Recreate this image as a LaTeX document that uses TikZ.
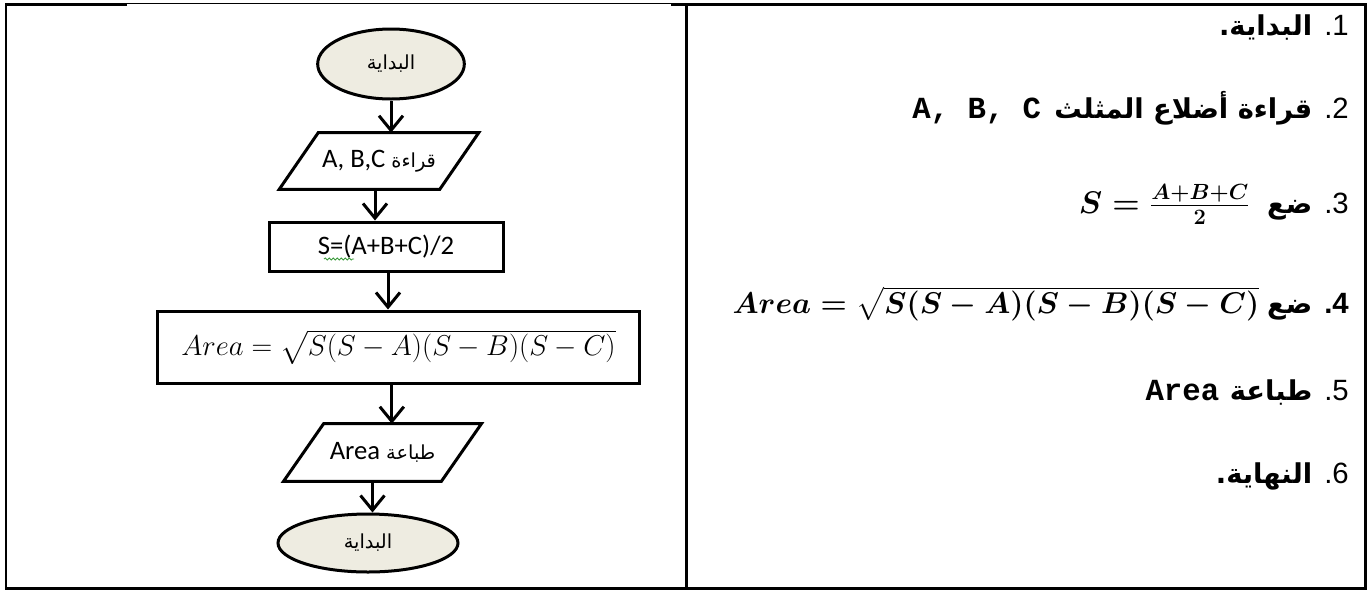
\RequirePackage{fix-cm}
\documentclass[tikz,border=0pt]{standalone}
\usepackage{amsmath}
\usepackage{fontspec}
\setmainfont{Liberation Sans}
\newfontfamily\arabicfont[Script=Arabic]{DejaVu Sans}
\newfontfamily\monof{Liberation Mono}
\newfontfamily\calib{Carlito}
\TeXXeTstate=1
\usetikzlibrary{shapes.geometric,arrows.meta,decorations.pathmorphing}
\definecolor{termfill}{HTML}{EEECE1}
\definecolor{squig}{HTML}{3A9A3A}
\tikzset{
  shp/.style={draw=black, line width=2.25pt},
  term/.style={shape=ellipse, draw=black, line width=2.25pt, fill=termfill, inner sep=0pt},
  procbox/.style={shape=rectangle, draw=black, line width=2.25pt, inner sep=0pt},
  ioslot/.style={shape=rectangle, inner sep=0pt},
  arr/.style={line width=2.25pt, -{Straight Barb[length=11pt,width=18pt]}},
  frameline/.style={line width=1.9pt, line cap=rect},
  thinline/.style={line width=0.8pt},
  rowtext/.style={anchor=base east, inner sep=0pt}
}
\newcommand{\rtfont}{\fontsize{22pt}{26pt}\selectfont}
\newcommand{\arb}[1]{{\arabicfont\bfseries\fontsize{20.5pt}{25pt}\selectfont\beginR #1\endR}}
\newcommand{\arr}[1]{{\arabicfont\fontsize{14.5pt}{18pt}\selectfont\beginR #1\endR}}
\begin{document}
\begin{tikzpicture}[x=0.75pt,y=-0.75pt]
\fill[white] (0,0) rectangle (1368,590);
\useasboundingbox (0,0) rectangle (1368,590);

% table frame
\draw[frameline] (6,4.3) -- (6,588.5) -- (1365.5,588.5) -- (1365.5,4.3);
\draw[frameline] (6,4.3) -- (126,4.3);
\draw[thinline] (126,3.7) -- (672,3.7);
\draw[frameline] (672,4.3) -- (1365.5,4.3);
\draw[frameline] (686.5,4.3) -- (686.5,588.5);

% flowchart
\node[term, minimum width=110pt, minimum height=52.5pt] (start) at (391,64) {\arr{البداية}};
\node[ioslot, minimum width=120pt, minimum height=42pt] (p1) at (379,161)
  {\calib\fontsize{20pt}{24pt}\selectfont A, B,C \arr{قراءة}};
\draw[shp] ([xshift=14.6pt]p1.north west) -- ([xshift=14.6pt]p1.north east)
  -- ([xshift=-14.6pt]p1.south east) -- ([xshift=-14.6pt]p1.south west) -- cycle;
\node[procbox, minimum width=175.5pt, minimum height=36.75pt] (sbox) at (386,246.5)
  {\calib\fontsize{20pt}{24pt}\selectfont S=(A+B+C)/2};
\node[procbox, minimum width=362pt, minimum height=54pt] (area) at (398.5,347)
  {\fontsize{21.5pt}{25pt}\selectfont $Area=\sqrt{S(S-A)(S-B)(S-C)}$};
\node[ioslot, minimum width=118pt, minimum height=42.75pt] (p2) at (382.5,452.5)
  {\calib\fontsize{20pt}{24pt}\selectfont Area \arr{طباعة}};
\draw[shp] ([xshift=15pt]p2.north west) -- ([xshift=15pt]p2.north east)
  -- ([xshift=-15pt]p2.south east) -- ([xshift=-15pt]p2.south west) -- cycle;
\node[term, minimum width=135pt, minimum height=43.5pt] (end) at (368,543) {\arr{البداية}};

\draw[squig, line width=0.6pt, decorate, decoration={snake, amplitude=0.8pt, segment length=3pt}]
  (324,259) -- (354,259);

\draw[arr] (start.south) -- (start.south |- p1.north);
\draw[arr] ([xshift=-3pt]p1.south) -- ([xshift=-3pt]p1.south |- sbox.north);
\draw[arr] ([xshift=1.5pt]sbox.south) -- ([xshift=1.5pt]sbox.south |- area.north);
\draw[arr] ([xshift=-5pt]area.south) -- ([xshift=-5pt]area.south |- p2.north);
\draw[arr] ([xshift=-7.5pt]p2.south) -- ([xshift=-7.5pt]p2.south |- end.north);

% algorithm steps
\node[rowtext] (r1) at (1349,35) {\rtfont\arb{البداية.}\hspace{9pt}.1};
\node[rowtext] (r2) at (1349,118) {\rtfont{\monof\bfseries\fontsize{23pt}{27pt}\selectfont A,~B,~C}\hspace{10pt}\arb{قراءة أضلاع المثلث}\hspace{9pt}.2};
\node[rowtext] (r3) at (1349,213) {{\fontsize{23.5pt}{28pt}\selectfont\boldmath$S=\frac{A+B+C}{2}$}\hspace{13pt}\arb{ضع}\hspace{9pt}{\rtfont .3}};
\node[rowtext] (r4) at (1349,313) {{\fontsize{22.5pt}{27pt}\selectfont\boldmath$Area=\sqrt{S(S-A)(S-B)(S-C)}$}\hspace{6pt}\arb{ضع}\hspace{9pt}{\rtfont\bfseries .4}};
\node[rowtext] (r5) at (1349,400) {\rtfont{\monof\bfseries\fontsize{23pt}{27pt}\selectfont Area}\hspace{8pt}\arb{طباعة}\hspace{9pt}.5};
\node[rowtext] (r6) at (1349,483) {\rtfont\arb{النهاية.}\hspace{9pt}.6};
\end{tikzpicture}
\end{document}
